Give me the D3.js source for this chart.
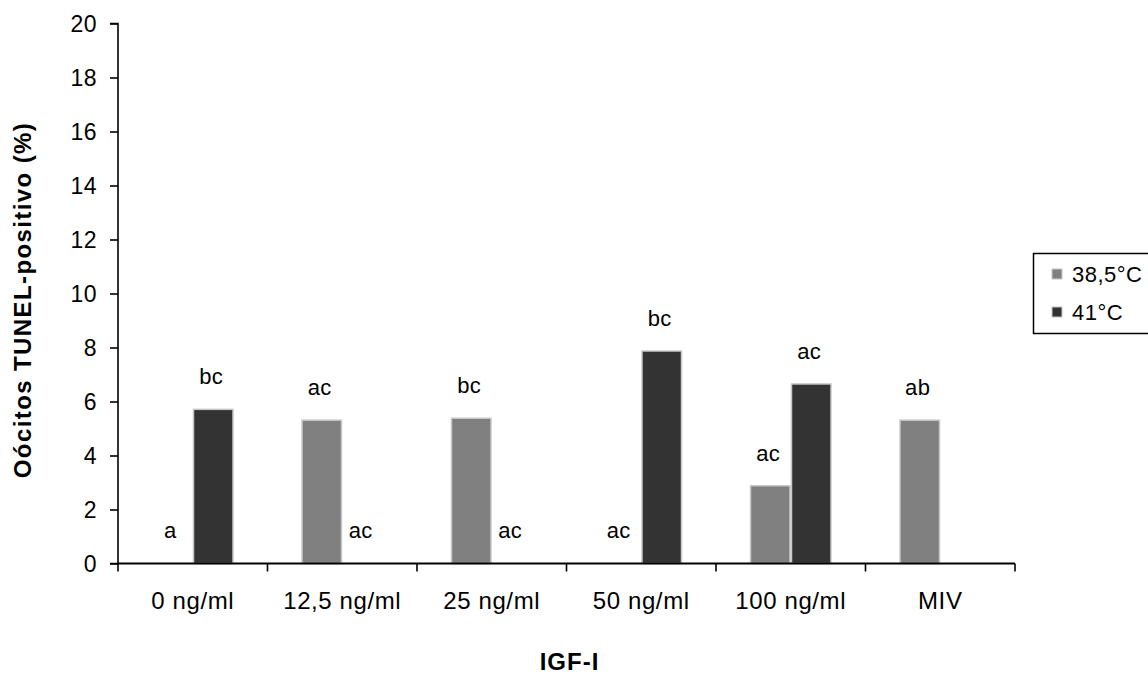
<!DOCTYPE html>
<html>
<head>
<meta charset="utf-8">
<script src="https://cdn.jsdelivr.net/npm/d3@7"></script>
<style>
  html, body { margin: 0; padding: 0; background: #fff; }
  svg { display: block; }
  text { font-family: "Liberation Sans", Arial, sans-serif; fill: #000; }
</style>
</head>
<body>
<svg id="chart" width="1148" height="674"></svg>
<script>
const categories = ["0 ng/ml", "12,5 ng/ml", "25 ng/ml", "50 ng/ml", "100 ng/ml", "MIV"];
const seriesNames = ["38,5°C", "41°C"];
const values385 = [0, 5.31, 5.38, 0, 2.88, 5.31];
const values41 = [5.71, 0, 0, 7.87, 6.65, 0];
const labels385 = ["a", "ac", "bc", "ac", "ac", "ab"];
const labels41 = ["bc", "ac", "ac", "bc", "ac", ""];
const yTicks = [0, 2, 4, 6, 8, 10, 12, 14, 16, 18, 20];
const yTitle = "Oócitos TUNEL-positivo (%)";
const xTitle = "IGF-I";
const colors = ["#808080", "#333333"];

(function () {
const svg = d3.select("#chart");
const mLeft = 118, mRight = 1015, mTop = 23.5, mBottom = 563.5;

const x = d3.scaleBand().domain(categories).range([mLeft, mRight]).paddingInner(0).paddingOuter(0);
const y = d3.scaleLinear().domain([0, 20]).range([mBottom, mTop]);
const groupW = 82;
const xs = d3.scaleBand().domain(seriesNames).range([0, groupW]);

const data = categories.map((c, i) => ({
  cat: c,
  items: [
    { s: seriesNames[0], v: values385[i], lab: labels385[i] },
    { s: seriesNames[1], v: values41[i], lab: labels41[i] }
  ]
}));

// bars
const groups = svg.append("g").selectAll("g").data(data).join("g")
  .attr("transform", d => `translate(${x(d.cat) + x.bandwidth() / 2 - groupW / 2},0)`);

groups.selectAll("rect").data(d => d.items.filter(it => it.v > 0)).join("rect")
  .attr("x", d => xs(d.s) + 0.75)
  .attr("width", xs.bandwidth() - 1.5)
  .attr("y", d => y(d.v))
  .attr("height", d => y(0) - y(d.v))
  .attr("fill", d => colors[seriesNames.indexOf(d.s)])
  .attr("stroke", "#c8c8c8")
  .attr("stroke-width", 1.5);

// letter labels
groups.selectAll("text").data(d => d.items.filter(it => it.lab)).join("text")
  .attr("x", d => xs(d.s) + xs.bandwidth() / 2 - 2)
  .attr("y", d => d.v > 0 ? y(d.v) - 25 : y(1.2) + 7)
  .attr("text-anchor", "middle")
  .style("font-size", "22px")
  .style("letter-spacing", "0.5px")
  .text(d => d.lab);

// y axis
const yAxis = svg.append("g").attr("transform", `translate(${mLeft},0)`)
  .call(d3.axisLeft(y).tickValues(yTicks).tickSize(8).tickPadding(13).tickFormat(d3.format("d")));
yAxis.selectAll("text").style("font-size", "23px").style("letter-spacing", "0.5px").attr("dy", "0.36em");
yAxis.select(".domain").attr("stroke", "#000").attr("stroke-width", 1.6).attr("d", `M-8,${mTop}H0V${mBottom}H-8`);
yAxis.selectAll(".tick line").attr("stroke", "#000").attr("stroke-width", 1.6);

// x axis
const xAxis = svg.append("g").attr("transform", `translate(0,${mBottom})`);
xAxis.append("line").attr("x1", mLeft).attr("x2", mRight).attr("y1", 0).attr("y2", 0)
  .attr("stroke", "#000").attr("stroke-width", 1.8);
const boundaries = categories.map(c => x(c)).concat([x(categories[categories.length - 1]) + x.bandwidth()]);
xAxis.selectAll("line.tk").data(boundaries).join("line").attr("class", "tk")
  .attr("x1", d => d).attr("x2", d => d).attr("y1", 0).attr("y2", 8)
  .attr("stroke", "#000").attr("stroke-width", 1.6);
xAxis.selectAll("text").data(categories).join("text")
  .attr("x", d => x(d) + x.bandwidth() / 2)
  .attr("y", 45)
  .attr("text-anchor", "middle")
  .style("font-size", "24px")
  .style("letter-spacing", "0.6px")
  .text(d => d);

// axis titles
svg.append("text")
  .attr("transform", `translate(31,300) rotate(-90)`)
  .attr("text-anchor", "middle")
  .style("font-size", "24px")
  .style("font-weight", "bold")
  .style("letter-spacing", "1.4px")
  .text(yTitle);
svg.append("text")
  .attr("x", (mLeft + mRight) / 2 + 3)
  .attr("y", 670)
  .attr("text-anchor", "middle")
  .style("font-size", "24px")
  .style("font-weight", "bold")
  .style("letter-spacing", "1px")
  .text(xTitle);

// legend
const lg = svg.append("g");
lg.append("rect").attr("x", 1033.5).attr("y", 253.5).attr("width", 130).attr("height", 80)
  .attr("fill", "#fff").attr("stroke", "#000").attr("stroke-width", 1.5);
seriesNames.forEach((s, i) => {
  const cy = 274 + i * 38;
  lg.append("rect").attr("x", 1052).attr("y", cy - 5).attr("width", 10).attr("height", 10)
    .attr("fill", colors[i]).attr("stroke", "#c8c8c8").attr("stroke-width", 1);
  lg.append("text").attr("x", 1072).attr("y", cy).attr("dy", "0.36em")
    .style("font-size", "22px").style("letter-spacing", "0.5px").text(s);
});
})();
</script>
</body>
</html>
